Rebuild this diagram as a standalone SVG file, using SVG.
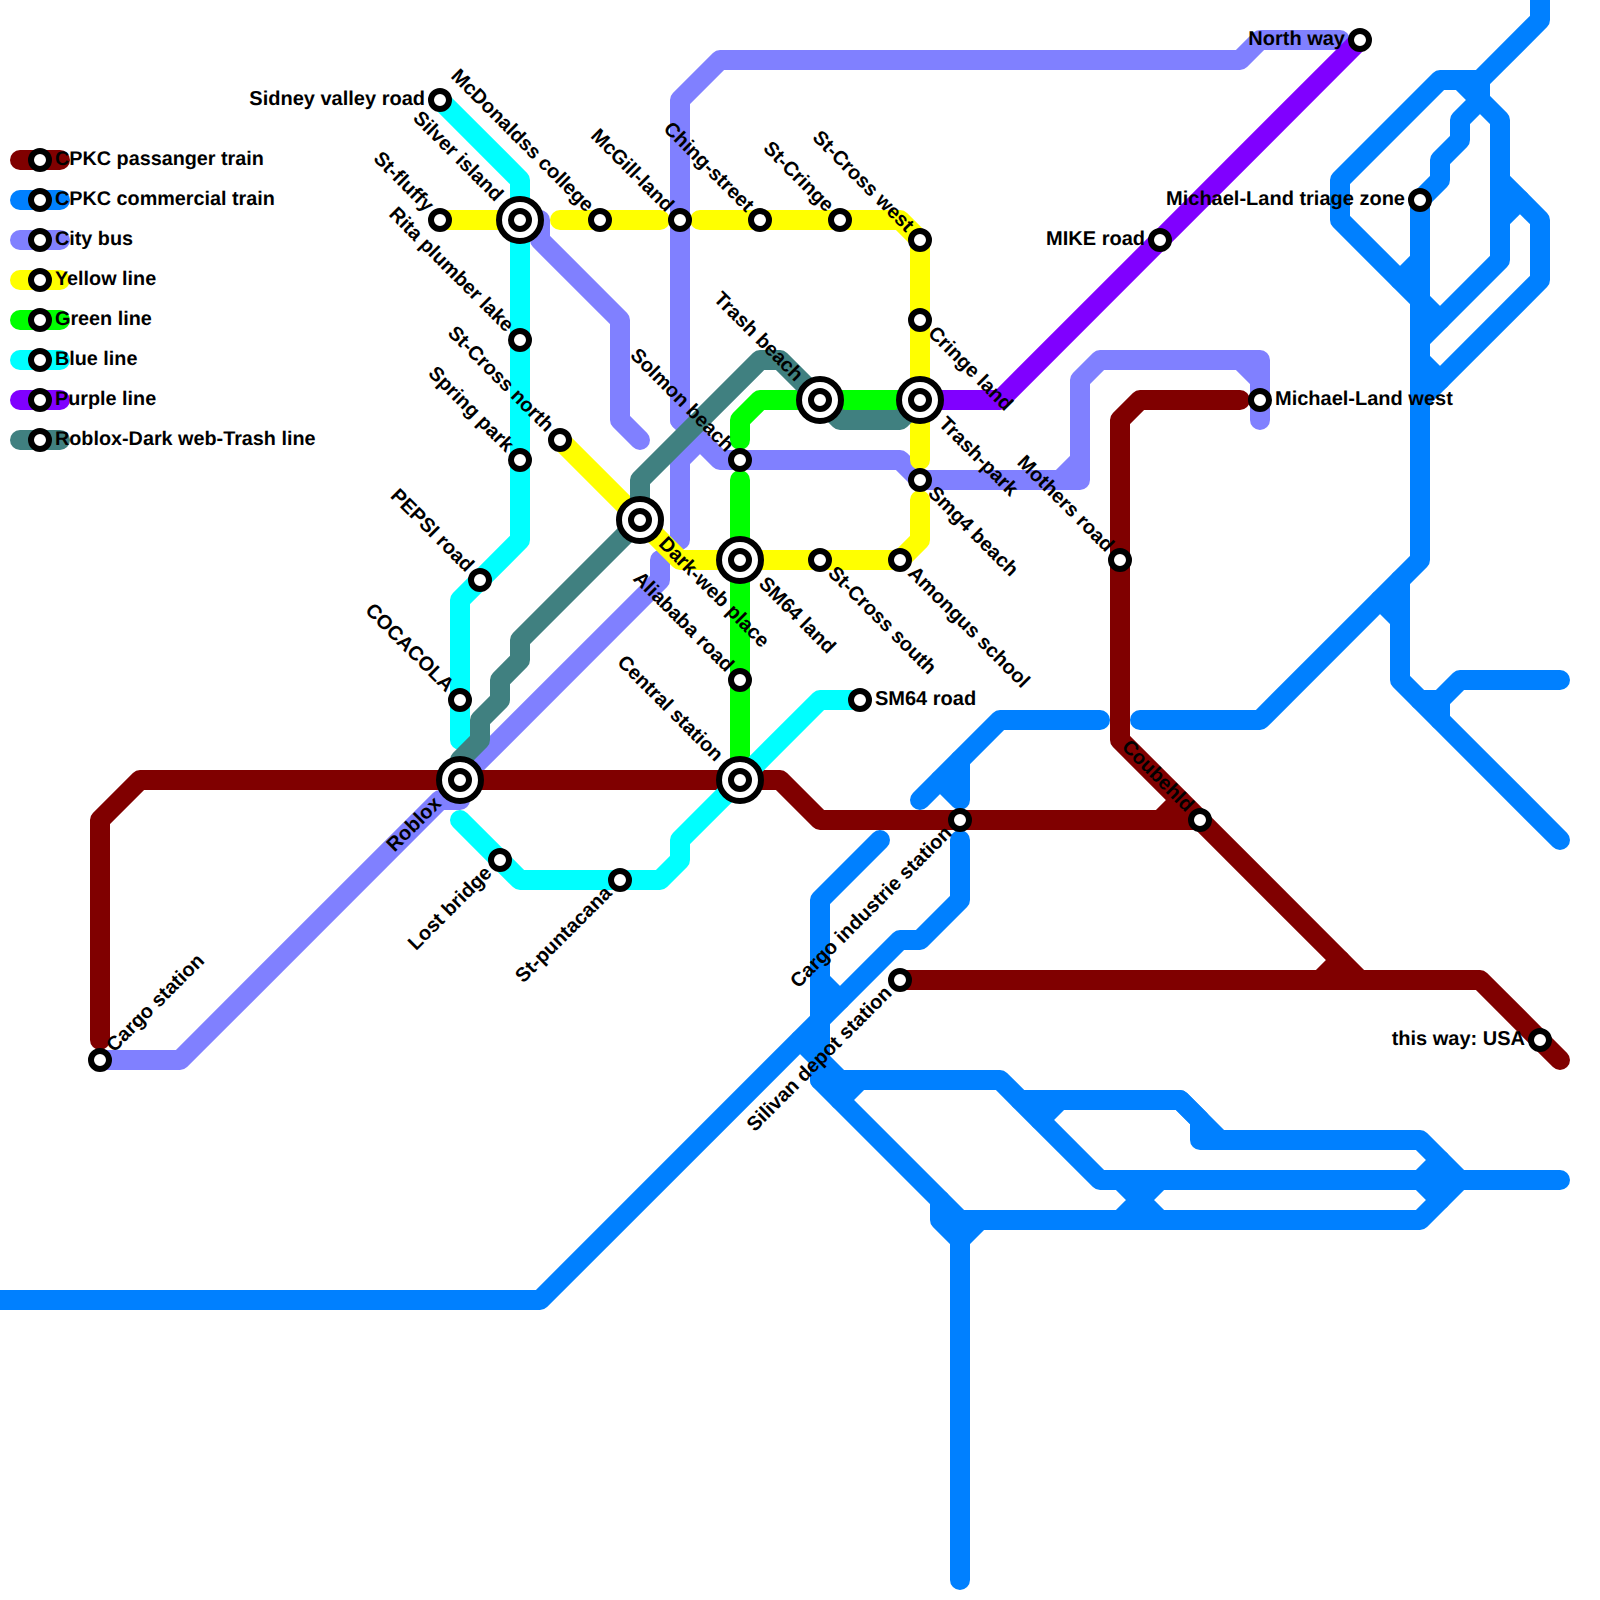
<svg xmlns="http://www.w3.org/2000/svg" width="1600" height="1600" viewBox="0 0 1600 1600">
<style>
.l{fill:none;stroke-width:20;stroke-linecap:round;stroke-linejoin:round}
.m{stroke:#800000}.b{stroke:#0080ff}.c{stroke:#8080ff}.y{stroke:#ffff00}.g{stroke:#00ff00}.a{stroke:#00ffff}.p{stroke:#8000ff}.t{stroke:#408080}
.s{fill:#fff;stroke:#000;stroke-width:6}
text{font-family:"Liberation Sans",Arial,sans-serif;font-size:20px;font-weight:700;fill:#000;text-rendering:geometricPrecision}
#legend text{font-size:19.8px}
.e{text-anchor:end}
</style>
<rect width="1600" height="1600" fill="#fff"/>
<g id="connectors">
<g id="line-commercial">
<path class="l b" d="M0 1300H540L900 940H920L960 900V840"/>
<path class="l b" d="M920 800L1000 720H1100"/>
<path class="l b" d="M960 760V800L940 780"/>
<path class="l b" d="M880 840L820 900V1080L960 1220H1420L1460 1180L1420 1140H1200V1120L1180 1100H1020"/>
<path class="l b" d="M820 980L840 1000"/>
<path class="l b" d="M800 1040L840 1080"/>
<path class="l b" d="M820 1080H1000L1100 1180H1560"/>
<path class="l b" d="M860 1080L840 1100"/>
<path class="l b" d="M1180 1100L1220 1140"/>
<path class="l b" d="M1060 1100L1040 1120"/>
<path class="l b" d="M960 1580V1240L940 1220V1200"/>
<path class="l b" d="M960 1240L980 1220"/>
<path class="l b" d="M1120 1180L1160 1220M1160 1180L1120 1220"/>
<path class="l b" d="M1440 1160L1420 1180L1440 1200"/>
<path class="l b" d="M1540 0V20L1480 80H1440L1340 180V220L1440 320"/>
<path class="l b" d="M1460 80L1480 100V80"/>
<path class="l b" d="M1480 100L1500 120V260L1420 340"/>
<path class="l b" d="M1480 100L1460 120V140L1440 160V180L1420 200V560L1260 720H1140"/>
<path class="l b" d="M1500 180L1540 220V280L1420 400"/>
<path class="l b" d="M1520 200L1500 220"/>
<path class="l b" d="M1420 260L1400 280"/>
<path class="l b" d="M1420 360L1440 380"/>
<path class="l b" d="M1400 580V680L1560 840"/>
<path class="l b" d="M1380 600L1400 620"/>
<path class="l b" d="M1420 700H1440L1460 680H1560M1440 700V720"/>
</g>
<g id="line-city">
<path class="l c" d="M100 1060H180L440 800H460"/>
<path class="l c" d="M460 780L660 580V560"/>
<path class="l c" d="M680 540V460L700 440"/>
<path class="l c" d="M1060 480L1080 460"/>
<path class="l c" d="M680 420V100L720 60H1240L1260 40H1340"/>
<path class="l c" d="M680 420L720 460H900L920 480H1080V380L1100 360H1260V420"/>
<path class="l c" d="M1240 360L1260 380"/>
<path class="l c" d="M530 220H540V240L620 320V420L640 440"/>
</g>
<g id="line-passenger">
<path class="l m" d="M100 1040V820L140 780H780L820 820H1200"/>
<path class="l m" d="M1160 820L1180 800"/>
<path class="l m" d="M1240 400H1140L1120 420V740L1360 980"/>
<path class="l m" d="M900 980H1480L1560 1060"/>
<path class="l m" d="M1320 980L1340 960"/>
</g>
<g id="line-yellow">
<path class="l y" d="M440 220H520"/>
<path class="l y" d="M560 220H660"/>
<path class="l y" d="M700 220H900L920 240V460"/>
<path class="l y" d="M560 440L680 560H900L920 540V500"/>
</g>
<g id="line-green">
<path class="l g" d="M740 780V480"/>
<path class="l g" d="M740 440V420L760 400H920"/>
</g>
<g id="line-blue">
<path class="l a" d="M440 100L520 180V540L460 600V740"/>
<path class="l a" d="M460 820L520 880H660L680 860V840L820 700H860"/>
</g>
<g id="line-purple">
<path class="l p" d="M920 400H1000L1360 40"/>
</g>
<g id="line-roblox">
<path class="l t" d="M460 780V760L480 740V720L500 700V680L520 660V640L640 520V480L760 360H780L840 420H900L920 400"/>
</g>
</g>
<g id="legend">
<g id="legend-passenger"><path class="l m" d="M20 160H60"/><circle class="s" cx="40" cy="160" r="9"/><text x="55" y="165">CPKC passanger train</text></g>
<g id="legend-commercial"><path class="l b" d="M20 200H60"/><circle class="s" cx="40" cy="200" r="9"/><text x="55" y="205">CPKC commercial train</text></g>
<g id="legend-city"><path class="l c" d="M20 240H60"/><circle class="s" cx="40" cy="240" r="9"/><text x="55" y="245">City bus</text></g>
<g id="legend-yellow"><path class="l y" d="M20 280H60"/><circle class="s" cx="40" cy="280" r="9"/><text x="55" y="285">Yellow line</text></g>
<g id="legend-green"><path class="l g" d="M20 320H60"/><circle class="s" cx="40" cy="320" r="9"/><text x="55" y="325">Green line</text></g>
<g id="legend-blue"><path class="l a" d="M20 360H60"/><circle class="s" cx="40" cy="360" r="9"/><text x="55" y="365">Blue line</text></g>
<g id="legend-purple"><path class="l p" d="M20 400H60"/><circle class="s" cx="40" cy="400" r="9"/><text x="55" y="405">Purple line</text></g>
<g id="legend-roblox"><path class="l t" d="M20 440H60"/><circle class="s" cx="40" cy="440" r="9"/><text x="55" y="445">Roblox-Dark web-Trash line</text></g>
</g>
<g id="stations">
<g id="sidney-valley-road" transform="translate(440 100)"><circle class="s" r="9"/><text class="e" x="-15" y="5">Sidney valley road</text></g>
<g id="st-fluffy" transform="translate(440 220)"><circle class="s" r="9"/><text class="e" transform="rotate(45)" x="-15" y="5">St-fluffy</text></g>
<g id="silver-island" transform="translate(520 220)"><circle class="s" r="21"/><circle class="s" r="9"/><text class="e" transform="rotate(45)" x="-30" y="5">Silver island</text></g>
<g id="mcdonaldss-college" transform="translate(600 220)"><circle class="s" r="9"/><text class="e" transform="rotate(45)" x="-15" y="5">McDonaldss college</text></g>
<g id="mcgill-land" transform="translate(680 220)"><circle class="s" r="9"/><text class="e" transform="rotate(45)" x="-15" y="5">McGill-land</text></g>
<g id="ching-street" transform="translate(760 220)"><circle class="s" r="9"/><text class="e" transform="rotate(45)" x="-15" y="5">Ching-street</text></g>
<g id="st-cringe" transform="translate(840 220)"><circle class="s" r="9"/><text class="e" transform="rotate(45)" x="-15" y="5">St-Cringe</text></g>
<g id="st-cross-west" transform="translate(920 240)"><circle class="s" r="9"/><text class="e" transform="rotate(45)" x="-15" y="5">St-Cross west</text></g>
<g id="cringe-land" transform="translate(920 320)"><circle class="s" r="9"/><text transform="rotate(45)" x="15" y="5">Cringe land</text></g>
<g id="trash-park" transform="translate(920 400)"><circle class="s" r="21"/><circle class="s" r="9"/><text transform="rotate(45)" x="30" y="5">Trash-park</text></g>
<g id="trash-beach" transform="translate(820 400)"><circle class="s" r="21"/><circle class="s" r="9"/><text class="e" transform="rotate(45)" x="-30" y="5">Trash beach</text></g>
<g id="smg4-beach" transform="translate(920 480)"><circle class="s" r="9"/><text transform="rotate(45)" x="15" y="5">Smg4 beach</text></g>
<g id="amongus-school" transform="translate(900 560)"><circle class="s" r="9"/><text transform="rotate(45)" x="15" y="5">Amongus school</text></g>
<g id="st-cross-south" transform="translate(820 560)"><circle class="s" r="9"/><text transform="rotate(45)" x="15" y="5">St-Cross south</text></g>
<g id="sm64-land" transform="translate(740 560)"><circle class="s" r="21"/><circle class="s" r="9"/><text transform="rotate(45)" x="30" y="5">SM64 land</text></g>
<g id="solmon-beach" transform="translate(740 460)"><circle class="s" r="9"/><text class="e" transform="rotate(45)" x="-15" y="5">Solmon beach</text></g>
<g id="dark-web-place" transform="translate(640 520)"><circle class="s" r="21"/><circle class="s" r="9"/><text transform="rotate(45)" x="30" y="5">Dark-web place</text></g>
<g id="st-cross-north" transform="translate(560 440)"><circle class="s" r="9"/><text class="e" transform="rotate(45)" x="-15" y="5">St-Cross north</text></g>
<g id="rita-plumber-lake" transform="translate(520 340)"><circle class="s" r="9"/><text class="e" transform="rotate(45)" x="-15" y="5">Rita plumber lake</text></g>
<g id="spring-park" transform="translate(520 460)"><circle class="s" r="9"/><text class="e" transform="rotate(45)" x="-15" y="5">Spring park</text></g>
<g id="pepsi-road" transform="translate(480 580)"><circle class="s" r="9"/><text class="e" transform="rotate(45)" x="-15" y="5">PEPSI road</text></g>
<g id="cocacola" transform="translate(460 700)"><circle class="s" r="9"/><text class="e" transform="rotate(45)" x="-15" y="5">COCACOLA</text></g>
<g id="roblox" transform="translate(460 780)"><circle class="s" r="21"/><circle class="s" r="9"/><text class="e" transform="rotate(-45)" x="-30" y="5">Roblox</text></g>
<g id="aliababa-road" transform="translate(740 680)"><circle class="s" r="9"/><text class="e" transform="rotate(45)" x="-15" y="5">Aliababa road</text></g>
<g id="central-station" transform="translate(740 780)"><circle class="s" r="21"/><circle class="s" r="9"/><text class="e" transform="rotate(45)" x="-30" y="5">Central station</text></g>
<g id="sm64-road" transform="translate(860 700)"><circle class="s" r="9"/><text x="15" y="5">SM64 road</text></g>
<g id="lost-bridge" transform="translate(500 860)"><circle class="s" r="9"/><text class="e" transform="rotate(-45)" x="-15" y="5">Lost bridge</text></g>
<g id="st-puntacana" transform="translate(620 880)"><circle class="s" r="9"/><text class="e" transform="rotate(-45)" x="-15" y="5">St-puntacana</text></g>
<g id="cargo-station" transform="translate(100 1060)"><circle class="s" r="9"/><text transform="rotate(-45)" x="15" y="5">Cargo station</text></g>
<g id="cargo-industrie-station" transform="translate(960 820)"><circle class="s" r="9"/><text class="e" transform="rotate(-45)" x="-15" y="5">Cargo industrie station</text></g>
<g id="silivan-depot-station" transform="translate(900 980)"><circle class="s" r="9"/><text class="e" transform="rotate(-45)" x="-15" y="5">Silivan depot station</text></g>
<g id="coubehld" transform="translate(1200 820)"><circle class="s" r="9"/><text class="e" transform="rotate(45)" x="-15" y="5">Coubehld</text></g>
<g id="mothers-road" transform="translate(1120 560)"><circle class="s" r="9"/><text class="e" transform="rotate(45)" x="-15" y="5">Mothers road</text></g>
<g id="michael-land-west" transform="translate(1260 400)"><circle class="s" r="9"/><text x="15" y="5">Michael-Land west</text></g>
<g id="mike-road" transform="translate(1160 240)"><circle class="s" r="9"/><text class="e" x="-15" y="5">MIKE road</text></g>
<g id="north-way" transform="translate(1360 40)"><circle class="s" r="9"/><text class="e" x="-15" y="5">North way</text></g>
<g id="michael-land-triage-zone" transform="translate(1420 200)"><circle class="s" r="9"/><text class="e" x="-15" y="5">Michael-Land triage zone</text></g>
<g id="this-way-usa" transform="translate(1540 1040)"><circle class="s" r="9"/><text class="e" x="-15" y="5">this way: USA</text></g>
</g>
</svg>
